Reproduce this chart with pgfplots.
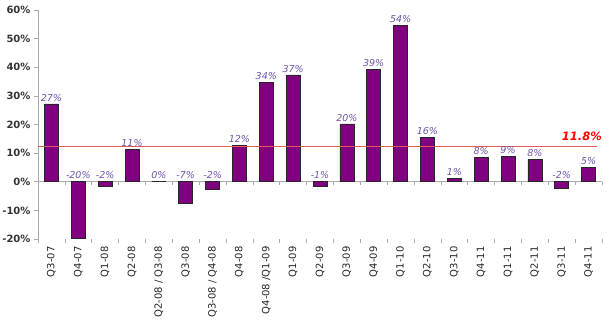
\documentclass[border=0pt]{standalone}
\usepackage{pgfplots}
\pgfplotsset{compat=1.18}
\usepackage{fontspec}
\setmainfont{DejaVu Sans}[ItalicFont={DejaVu Sans Oblique},BoldFont={DejaVu Sans Bold},BoldItalicFont={DejaVu Sans Bold Oblique}]
\definecolor{barfill}{RGB}{128,0,128}
\definecolor{labcol}{RGB}{112,84,170}
\definecolor{avgline}{RGB}{230,90,90}
\definecolor{axgray}{RGB}{170,170,170}
\begin{document}
\begin{tikzpicture}
\begin{axis}[
  scale only axis, width=564pt, height=229pt,
  xmin=-0.5, xmax=20.5, ymin=-20, ymax=60,
  clip=false,
  axis x line*=bottom, axis y line*=left,
  x axis line style={draw=none},
  y axis line style={axgray, line width=0.8pt},
  tick align=outside,
  xtick={0,...,20},
  xticklabels={Q3-07,Q4-07,Q1-08,Q2-08,Q2-08 / Q3-08,Q3-08,Q3-08 / Q4-08,Q4-08,Q4-08 /Q1-09,Q1-09,Q2-09,Q3-09,Q4-09,Q1-10,Q2-10,Q3-10,Q4-11,Q1-11,Q2-11,Q3-11,Q4-11},
  major x tick style={draw=none},
  minor xtick={-0.5,0.5,1.5,2.5,3.5,4.5,5.5,6.5,7.5,8.5,9.5,10.5,11.5,12.5,13.5,14.5,15.5,16.5,17.5,18.5,19.5,20.5},
  minor tick length=4pt,
  major tick length=4pt,
  every tick/.style={axgray, line width=0.6pt},
  ytick={-20,-10,0,10,20,30,40,50,60},
  yticklabels={-20\%,-10\%,0\%,10\%,20\%,30\%,40\%,50\%,60\%},
  yticklabel style={font=\bfseries\fontsize{10}{12}\selectfont, text=black!80},
  xticklabel style={rotate=90, anchor=east, font=\fontsize{10}{12}\selectfont, text=black!85},
]
% zero line
\addplot[axgray, line width=0.8pt, forget plot] coordinates {(-0.5,0) (20.5,0)};
\pgfplotsinvokeforeach{-0.5,0.5,1.5,2.5,3.5,4.5,5.5,6.5,7.5,8.5,9.5,10.5,11.5,12.5,13.5,14.5,15.5,16.5,17.5,18.5,19.5,20.5}{\draw[axgray, line width=0.6pt] (axis cs:#1,0) -- ([yshift=-3pt]axis cs:#1,0);}
% bars
\addplot[ybar, bar width=14pt, fill=barfill, draw=black!85, line width=0.7pt] coordinates {
(0,27.2) (1,-19.8) (2,-1.6) (3,11.4) (4,0) (5,-7.5) (6,-2.6) (7,12.6) (8,34.6) (9,37.3)
(10,-1.5) (11,20.2) (12,39.2) (13,54.5) (14,15.6) (15,1.3) (16,8.6) (17,8.9) (18,7.7) (19,-2.4) (20,5.1)};
% average line
\addplot[avgline, line width=0.6pt] coordinates {(-0.5,12.5) (20.3,12.5)};
% data labels
\addplot[draw=none, mark=none, nodes near coords, point meta=explicit symbolic,
  nodes near coords style={anchor=south, inner sep=2.5pt, text=labcol, font=\itshape\fontsize{9.5}{11}\selectfont}] coordinates {
(0,27.2)[27\%] (1,0)[-20\%] (2,0)[-2\%] (3,11.4)[11\%] (4,0)[0\%] (5,0)[-7\%] (6,0)[-2\%] (7,12.6)[12\%] (8,34.6)[34\%] (9,37.3)[37\%]
(10,0)[-1\%] (11,20.2)[20\%] (12,39.2)[39\%] (13,54.5)[54\%] (14,15.6)[16\%] (15,1.3)[1\%] (16,8.6)[8\%] (17,8.9)[9\%] (18,7.7)[8\%] (19,0)[-2\%] (20,5.1)[5\%]};
\node[anchor=base east, inner sep=0pt, yshift=5pt, text=red, font=\bfseries\itshape\fontsize{11.5}{13}\selectfont] at (axis cs:20.5,12.5) {11.8\%};
\end{axis}
\pgfresetboundingbox
\path ([shift={(-38pt,-88pt)}]current axis.south west) rectangle ([shift={(13pt,10pt)}]current axis.north east);
\end{tikzpicture}
\end{document}
